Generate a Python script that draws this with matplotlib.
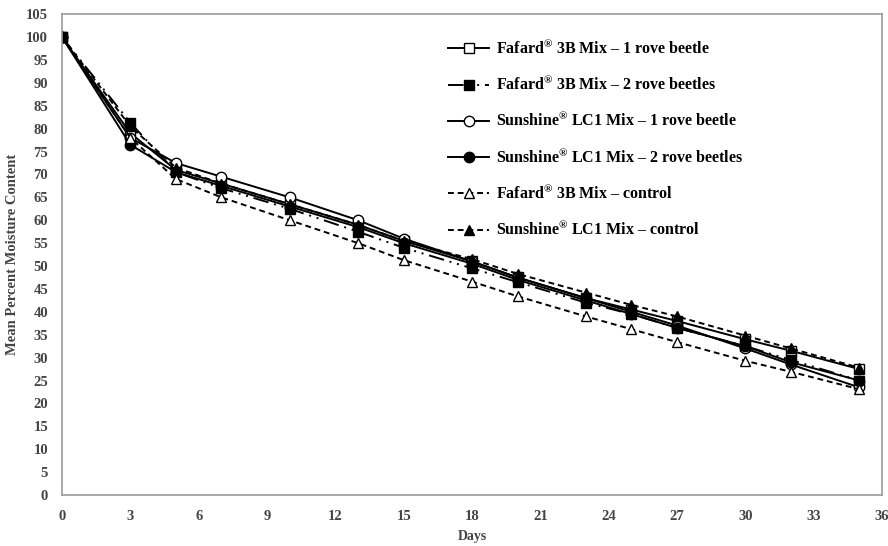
import matplotlib
matplotlib.use('Agg')
import matplotlib.pyplot as plt

plt.rcParams['font.family'] = ['Liberation Serif', 'DejaVu Serif']
plt.rcParams['mathtext.fontset'] = 'custom'
plt.rcParams['mathtext.rm'] = 'Liberation Serif:bold'
plt.rcParams['mathtext.bf'] = 'Liberation Serif:bold'

days = [0, 3, 5, 7, 10, 13, 15, 18, 20, 23, 25, 27, 30, 32, 35]

fafard_1 = [100, 79.0, 71.0, 68.0, 63.5, 59.0, 55.5, 51.0, 47.5, 43.0, 40.5, 38.0, 34.0, 31.5, 27.5]
fafard_2 = [100, 81.3, 70.5, 67.0, 62.5, 57.5, 54.0, 49.5, 46.5, 42.0, 39.5, 36.5, 32.5, 29.5, 25.0]
sunshine_1 = [100, 78.0, 72.5, 69.5, 65.0, 60.0, 56.0, 51.0, 47.5, 43.0, 40.0, 37.0, 32.0, 28.5, 23.5]
sunshine_2 = [100, 76.5, 70.5, 67.5, 63.0, 58.5, 55.0, 50.5, 47.0, 42.5, 39.5, 36.5, 32.5, 29.0, 25.0]
fafard_ctrl = [100, 78.0, 69.0, 65.0, 60.0, 55.0, 51.3, 46.6, 43.4, 39.0, 36.2, 33.4, 29.3, 26.9, 23.1]
sunshine_ctrl = [100, 80.5, 71.5, 68.0, 63.5, 59.0, 55.5, 51.5, 48.3, 44.2, 41.5, 39.0, 34.8, 32.0, 27.8]

reg = '$^{\u00ae}$'
labels = [
    'Fafard' + reg + ' 3B Mix \u2013 1 rove beetle',
    'Fafard' + reg + ' 3B Mix \u2013 2 rove beetles',
    'Sunshine' + reg + ' LC1 Mix \u2013 1 rove beetle',
    'Sunshine' + reg + ' LC1 Mix \u2013 2 rove beetles',
    'Fafard' + reg + ' 3B Mix \u2013 control',
    'Sunshine' + reg + ' LC1 Mix \u2013 control',
]

fig = plt.figure(figsize=(8.88, 5.46), dpi=100)
ax = fig.add_axes([0.0698, 0.0934, 0.9235, 0.8806])

lw = 1.4
ms = 7.5
ax.plot(days, fafard_1, color='black', lw=lw, ls='-', marker='s', ms=ms,
        mfc='white', mec='black', label=labels[0])
ax.plot(days, fafard_2, color='black', lw=lw, ls=(0, (8, 3, 1, 3, 1, 3)), marker='s', ms=ms,
        mfc='black', mec='black', label=labels[1])
ax.plot(days, sunshine_1, color='black', lw=lw, ls='-', marker='o', ms=ms,
        mfc='white', mec='black', label=labels[2])
ax.plot(days, sunshine_2, color='black', lw=lw, ls='-', marker='o', ms=ms,
        mfc='black', mec='black', label=labels[3])
ax.plot(days, fafard_ctrl, color='black', lw=lw, ls=(0, (3, 2)), marker='^', ms=ms,
        mfc='white', mec='black', label=labels[4])
ax.plot(days, sunshine_ctrl, color='black', lw=lw, ls=(0, (3, 2)), marker='^', ms=ms,
        mfc='black', mec='black', label=labels[5])

ax.set_xlim(0, 36)
ax.set_ylim(0, 105)
ax.set_xticks(range(0, 37, 3))
ax.set_yticks(range(0, 106, 5))
ax.tick_params(axis='y', length=0, labelsize=10.5, labelcolor='#444444', pad=10)
ax.tick_params(axis='x', length=0, labelsize=10.5, labelcolor='#444444', pad=11)
for t in ax.get_xticklabels() + ax.get_yticklabels():
    t.set_fontweight('bold')
for s in ax.spines.values():
    s.set_color('#999999')
    s.set_linewidth(1.2)

ax.set_xlabel('Days', fontsize=10, fontweight='bold', color='#444444', labelpad=5)
ax.set_ylabel('Mean Percent Moisture Content', fontsize=10.5, fontweight='bold',
              color='#444444', labelpad=5)

leg = ax.legend(loc='upper left', bbox_to_anchor=(0.453, 0.978), frameon=False,
                prop={'size': 11.5, 'weight': 'bold'}, labelspacing=1.1,
                handlelength=2.6, handletextpad=0.4)

fig.savefig('out.png', dpi=100)
